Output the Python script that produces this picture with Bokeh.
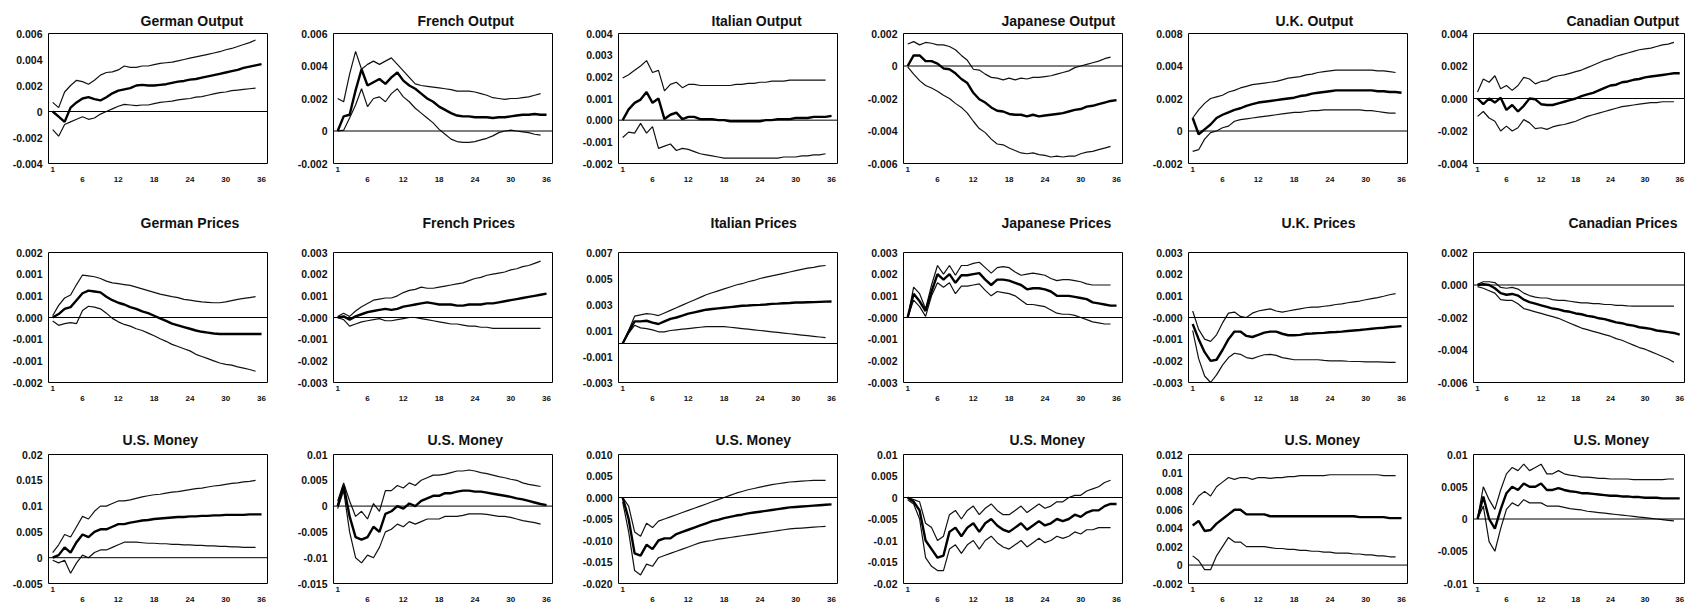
from bokeh.plotting import figure
from bokeh.layouts import gridplot
from bokeh.models import Range1d, FixedTicker, LinearAxis, Span
from bokeh.embed import file_html
from bokeh.resources import INLINE

UNIT = 0.001  # all series below are written in thousandths

periods = list(range(1, 37))
first_tick = [1]
other_ticks = [6, 12, 18, 24, 30, 36]

# ---------------- Row 1: Output ----------------
german_output_mid = [0, -0.4, -0.8, 0.3, 0.7, 1.0, 1.1, 0.95, 0.85, 1.1, 1.4, 1.6, 1.7, 1.8, 2.0, 2.05, 2.0, 2.0, 2.05, 2.1, 2.2, 2.3, 2.35, 2.45, 2.5, 2.6, 2.7, 2.8, 2.9, 3.0, 3.1, 3.2, 3.35, 3.45, 3.55, 3.65]
german_output_hi = [0.7, 0.3, 1.5, 2.0, 2.4, 2.3, 2.1, 2.4, 2.8, 3.0, 3.05, 3.2, 3.5, 3.4, 3.4, 3.5, 3.5, 3.6, 3.7, 3.75, 3.8, 3.9, 4.0, 4.1, 4.2, 4.3, 4.4, 4.5, 4.6, 4.75, 4.85, 5.0, 5.15, 5.3, 5.5]
german_output_lo = [-1.4, -1.9, -1.0, -0.8, -0.6, -0.4, -0.6, -0.5, -0.2, 0.0, 0.2, 0.4, 0.55, 0.5, 0.45, 0.5, 0.5, 0.6, 0.7, 0.75, 0.8, 0.9, 0.95, 1.0, 1.1, 1.15, 1.25, 1.35, 1.45, 1.5, 1.6, 1.65, 1.7, 1.75, 1.8]
german_output_ticks = [-0.004, -0.002, 0.0, 0.002, 0.004, 0.006]
german_output_labels = ["-0.004", "-0.002", "0", "0.002", "0.004", "0.006"]

french_output_mid = [0, 0.9, 1.0, 2.5, 3.8, 2.8, 3.0, 3.2, 2.9, 3.3, 3.6, 3.1, 2.8, 2.6, 2.3, 2.0, 1.8, 1.5, 1.3, 1.1, 0.95, 0.9, 0.9, 0.85, 0.85, 0.85, 0.8, 0.85, 0.85, 0.9, 0.95, 1.0, 1.0, 1.05, 1.0, 1.0]
french_output_hi = [2.0, 1.8, 3.5, 4.9, 3.8, 4.1, 4.3, 4.1, 4.3, 4.5, 4.1, 3.7, 3.3, 2.9, 2.8, 2.75, 2.7, 2.65, 2.6, 2.55, 2.45, 2.45, 2.45, 2.4, 2.3, 2.2, 2.05, 2.0, 1.95, 2.0, 2.0, 2.05, 2.1, 2.2, 2.3]
french_output_lo = [0, 0.05, 0.8, 1.6, 2.6, 1.5, 2.0, 2.1, 1.8, 2.3, 2.6, 2.1, 1.8, 1.4, 1.1, 0.8, 0.5, 0.1, -0.2, -0.5, -0.65, -0.7, -0.7, -0.65, -0.55, -0.45, -0.3, -0.1, 0.0, 0.05, 0.0, -0.05, -0.1, -0.2, -0.25]
french_output_ticks = [-0.002, 0.0, 0.002, 0.004, 0.006]
french_output_labels = ["-0.002", "0", "0.002", "0.004", "0.006"]

italian_output_mid = [0, 0.5, 0.8, 0.95, 1.3, 0.8, 1.0, 0.05, 0.25, 0.35, 0.05, 0.15, 0.15, 0.05, 0.05, 0.05, 0.0, 0.0, -0.05, -0.05, -0.05, -0.05, -0.05, -0.05, 0.0, 0.0, 0.05, 0.05, 0.05, 0.1, 0.1, 0.1, 0.15, 0.15, 0.15, 0.2]
italian_output_hi = [1.95, 2.1, 2.3, 2.5, 2.75, 2.2, 2.3, 1.35, 1.65, 1.75, 1.5, 1.65, 1.65, 1.6, 1.6, 1.6, 1.6, 1.6, 1.6, 1.65, 1.65, 1.7, 1.7, 1.75, 1.75, 1.8, 1.8, 1.8, 1.85, 1.85, 1.85, 1.85, 1.85, 1.85, 1.85]
italian_output_lo = [-0.8, -0.55, -0.6, -0.15, -0.6, -0.3, -1.3, -1.2, -1.1, -1.4, -1.3, -1.35, -1.45, -1.55, -1.6, -1.65, -1.7, -1.75, -1.75, -1.75, -1.75, -1.75, -1.75, -1.75, -1.75, -1.75, -1.75, -1.7, -1.7, -1.7, -1.65, -1.65, -1.6, -1.6, -1.55]
italian_output_ticks = [-0.002, -0.001, 0.0, 0.001, 0.002, 0.003, 0.004]
italian_output_labels = ["-0.002", "-0.001", "0.000", "0.001", "0.002", "0.003", "0.004"]

japanese_output_mid = [0, 0.65, 0.65, 0.3, 0.3, 0.15, -0.15, -0.2, -0.45, -0.8, -1.05, -1.65, -2.05, -2.25, -2.55, -2.75, -2.8, -2.95, -3.0, -3.0, -3.1, -3.0, -3.1, -3.05, -3.0, -2.95, -2.9, -2.8, -2.7, -2.65, -2.5, -2.45, -2.35, -2.25, -2.15, -2.1]
japanese_output_hi = [1.35, 1.5, 1.3, 1.45, 1.4, 1.3, 1.3, 1.2, 1.0, 0.65, 0.35, -0.2, -0.25, -0.5, -0.7, -0.75, -0.85, -0.75, -0.85, -0.75, -0.8, -0.7, -0.7, -0.65, -0.6, -0.5, -0.4, -0.3, -0.1, 0.0, 0.1, 0.2, 0.3, 0.45, 0.55]
japanese_output_lo = [-0.05, -0.5, -0.9, -1.2, -1.35, -1.55, -1.8, -2.0, -2.3, -2.55, -2.9, -3.4, -3.85, -4.1, -4.5, -4.8, -4.85, -5.05, -5.2, -5.35, -5.4, -5.35, -5.45, -5.5, -5.6, -5.55, -5.6, -5.55, -5.55, -5.4, -5.3, -5.25, -5.15, -5.05, -4.95]
japanese_output_ticks = [-0.006, -0.004, -0.002, 0.0, 0.002]
japanese_output_labels = ["-0.006", "-0.004", "-0.002", "0", "0.002"]

uk_output_mid = [0.8, -0.2, 0.1, 0.4, 0.8, 1.0, 1.15, 1.3, 1.4, 1.55, 1.65, 1.75, 1.8, 1.85, 1.9, 1.95, 2.0, 2.05, 2.15, 2.2, 2.3, 2.35, 2.4, 2.45, 2.5, 2.5, 2.5, 2.5, 2.5, 2.5, 2.5, 2.45, 2.45, 2.4, 2.4, 2.35]
uk_output_hi = [0.8, 1.3, 1.7, 2.0, 2.1, 2.2, 2.4, 2.5, 2.65, 2.75, 2.85, 2.9, 2.95, 3.0, 3.05, 3.15, 3.25, 3.3, 3.35, 3.45, 3.5, 3.6, 3.65, 3.7, 3.75, 3.75, 3.75, 3.75, 3.75, 3.75, 3.75, 3.7, 3.7, 3.65, 3.6]
uk_output_lo = [-1.25, -1.15, -0.5, -0.1, 0.0, 0.2, 0.3, 0.6, 0.7, 0.75, 0.8, 0.85, 0.9, 0.95, 1.0, 1.05, 1.1, 1.15, 1.15, 1.2, 1.25, 1.25, 1.3, 1.3, 1.3, 1.3, 1.3, 1.3, 1.3, 1.25, 1.25, 1.2, 1.15, 1.1, 1.1]
uk_output_ticks = [-0.002, 0.0, 0.002, 0.004, 0.006]
uk_output_labels = ["-0.002", "0", "0.002", "0.004", "0.008"]

canadian_output_mid = [0, -0.35, 0, -0.25, 0.05, -0.7, -0.4, -0.8, -0.45, 0, -0.05, -0.35, -0.4, -0.4, -0.3, -0.2, -0.1, 0, 0.15, 0.25, 0.35, 0.5, 0.65, 0.8, 0.85, 1.0, 1.05, 1.15, 1.2, 1.3, 1.35, 1.4, 1.45, 1.5, 1.55, 1.55]
canadian_output_hi = [0.4, 1.2, 1.0, 1.4, 0.6, 0.8, 0.5, 0.8, 1.3, 1.2, 0.9, 1.05, 1.1, 1.3, 1.4, 1.45, 1.55, 1.65, 1.75, 1.9, 2.05, 2.2, 2.35, 2.45, 2.6, 2.7, 2.8, 2.9, 3.0, 3.05, 3.1, 3.2, 3.3, 3.35, 3.45]
canadian_output_lo = [-1.1, -0.8, -1.2, -1.4, -2.0, -1.7, -2.0, -1.8, -1.3, -1.5, -1.85, -1.8, -1.9, -1.75, -1.65, -1.6, -1.5, -1.4, -1.25, -1.1, -1.0, -0.9, -0.8, -0.7, -0.6, -0.5, -0.45, -0.4, -0.35, -0.3, -0.25, -0.25, -0.2, -0.2, -0.2]
canadian_output_ticks = [-0.004, -0.002, 0.0, 0.002, 0.004]
canadian_output_labels = ["-0.004", "-0.002", "0.000", "0.002", "0.004"]

# ---------------- Row 2: Prices ----------------
german_prices_mid = [0, 0.08, 0.2, 0.24, 0.4, 0.56, 0.62, 0.6, 0.58, 0.48, 0.4, 0.34, 0.3, 0.24, 0.2, 0.14, 0.1, 0.04, -0.02, -0.08, -0.14, -0.18, -0.22, -0.26, -0.3, -0.33, -0.35, -0.37, -0.38, -0.38, -0.38, -0.38, -0.38, -0.38, -0.38, -0.38]
german_prices_hi = [0.04, 0.28, 0.45, 0.52, 0.76, 0.98, 0.96, 0.94, 0.9, 0.84, 0.8, 0.78, 0.76, 0.74, 0.7, 0.66, 0.62, 0.58, 0.54, 0.51, 0.48, 0.46, 0.42, 0.4, 0.38, 0.36, 0.35, 0.34, 0.34, 0.36, 0.39, 0.42, 0.44, 0.46, 0.48]
german_prices_lo = [-0.08, -0.18, -0.14, -0.12, -0.14, 0.16, 0.26, 0.24, 0.2, 0.1, -0.02, -0.1, -0.16, -0.2, -0.26, -0.3, -0.36, -0.42, -0.49, -0.55, -0.62, -0.67, -0.72, -0.77, -0.85, -0.9, -0.95, -1.0, -1.05, -1.08, -1.1, -1.14, -1.17, -1.2, -1.24]
german_prices_ticks = [-0.0015, -0.001, -0.0005, 0.0, 0.0005, 0.001, 0.0015]
german_prices_labels = ["-0.002", "-0.001", "-0.001", "0.000", "0.001", "0.001", "0.002"]

french_prices_mid = [0, 0.05, -0.1, 0.05, 0.15, 0.25, 0.3, 0.35, 0.4, 0.35, 0.4, 0.5, 0.55, 0.6, 0.65, 0.7, 0.65, 0.6, 0.6, 0.6, 0.55, 0.55, 0.6, 0.6, 0.6, 0.65, 0.65, 0.7, 0.75, 0.8, 0.85, 0.9, 0.95, 1.0, 1.05, 1.1]
french_prices_hi = [0.05, 0.2, 0.05, 0.3, 0.5, 0.65, 0.8, 0.85, 0.9, 0.9, 1.0, 1.15, 1.25, 1.3, 1.4, 1.35, 1.35, 1.4, 1.45, 1.5, 1.55, 1.6, 1.7, 1.8, 1.85, 1.95, 2.0, 2.05, 2.1, 2.2, 2.25, 2.35, 2.4, 2.5, 2.6]
french_prices_lo = [0.0, -0.1, -0.4, -0.3, -0.2, -0.15, -0.1, -0.05, -0.15, -0.15, -0.1, -0.05, 0.0, 0.0, -0.05, -0.1, -0.15, -0.2, -0.25, -0.3, -0.3, -0.35, -0.4, -0.4, -0.45, -0.45, -0.5, -0.5, -0.5, -0.5, -0.5, -0.5, -0.5, -0.5, -0.5]
french_prices_ticks = [-0.003, -0.002, -0.001, 0.0, 0.001, 0.002, 0.003]
french_prices_labels = ["-0.003", "-0.002", "-0.001", "-0.000", "0.001", "0.002", "0.003"]

italian_prices_mid = [0, 0.9, 1.7, 1.7, 1.75, 1.6, 1.5, 1.7, 1.9, 2.0, 2.15, 2.3, 2.4, 2.5, 2.6, 2.65, 2.7, 2.75, 2.8, 2.85, 2.9, 2.92, 2.95, 2.97, 3.0, 3.05, 3.07, 3.1, 3.12, 3.15, 3.15, 3.17, 3.18, 3.2, 3.22, 3.23]
italian_prices_hi = [0.0, 1.0, 2.1, 2.2, 2.3, 2.25, 2.15, 2.35, 2.55, 2.75, 2.95, 3.15, 3.35, 3.55, 3.75, 3.9, 4.05, 4.2, 4.35, 4.5, 4.6, 4.75, 4.85, 5.0, 5.1, 5.2, 5.3, 5.4, 5.5, 5.6, 5.7, 5.8, 5.85, 5.95, 6.0]
italian_prices_lo = [0.0, 0.8, 1.4, 1.2, 1.15, 1.05, 0.9, 0.9, 1.0, 1.05, 1.1, 1.15, 1.2, 1.25, 1.3, 1.3, 1.3, 1.3, 1.25, 1.2, 1.15, 1.1, 1.05, 1.0, 0.95, 0.9, 0.85, 0.8, 0.75, 0.7, 0.65, 0.6, 0.55, 0.5, 0.45]
italian_prices_ticks = [-0.003, -0.001, 0.001, 0.003, 0.005, 0.007]
italian_prices_labels = ["-0.003", "-0.001", "0.001", "0.003", "0.005", "0.007"]

japanese_prices_mid = [0, 1.1, 0.75, 0.3, 1.2, 2.0, 1.75, 2.0, 1.6, 1.95, 1.95, 2.0, 2.05, 1.75, 1.5, 1.75, 1.75, 1.7, 1.6, 1.5, 1.3, 1.35, 1.35, 1.3, 1.2, 1.0, 1.0, 1.0, 0.95, 0.9, 0.85, 0.7, 0.65, 0.6, 0.55, 0.55]
japanese_prices_hi = [0, 1.4, 1.1, 0.4, 1.5, 2.4, 2.0, 2.4, 1.95, 2.4, 2.4, 2.5, 2.55, 2.3, 2.05, 2.3, 2.35, 2.3, 2.1, 1.95, 2.0, 2.05, 2.0, 1.95, 1.8, 1.7, 1.75, 1.75, 1.7, 1.65, 1.55, 1.5, 1.5, 1.5, 1.5]
japanese_prices_lo = [0, 0.8, 0.5, 0.05, 1.0, 1.6, 1.4, 1.6, 1.1, 1.45, 1.45, 1.5, 1.55, 1.25, 1.0, 1.2, 1.15, 1.1, 1.0, 0.8, 0.6, 0.6, 0.55, 0.5, 0.35, 0.2, 0.15, 0.15, 0.1, 0.0, -0.1, -0.2, -0.25, -0.3, -0.3]
japanese_prices_ticks = [-0.003, -0.002, -0.001, 0.0, 0.001, 0.002, 0.003]
japanese_prices_labels = ["-0.003", "-0.002", "-0.001", "-0.000", "0.001", "0.002", "0.003"]

uk_prices_mid = [-0.3, -1.0, -1.6, -2.0, -1.95, -1.5, -1.0, -0.65, -0.65, -0.85, -0.9, -0.8, -0.7, -0.65, -0.65, -0.75, -0.82, -0.82, -0.8, -0.75, -0.74, -0.72, -0.71, -0.68, -0.67, -0.65, -0.62, -0.6, -0.58, -0.55, -0.52, -0.49, -0.47, -0.44, -0.42, -0.4]
uk_prices_hi = [0.3, -0.55, -1.0, -1.1, -0.8, -0.25, 0.2, 0.25, 0.05, 0.0, 0.2, 0.3, 0.35, 0.4, 0.3, 0.25, 0.3, 0.35, 0.4, 0.45, 0.48, 0.48, 0.52, 0.55, 0.6, 0.63, 0.68, 0.72, 0.76, 0.82, 0.87, 0.92, 0.98, 1.05, 1.1]
uk_prices_lo = [-0.6, -1.9, -2.7, -3.0, -2.65, -2.2, -1.85, -1.65, -1.7, -1.85, -1.9, -1.8, -1.72, -1.7, -1.75, -1.85, -1.9, -1.95, -1.95, -1.95, -1.95, -1.95, -1.98, -2.0, -2.0, -2.0, -2.02, -2.03, -2.03, -2.05, -2.05, -2.05, -2.06, -2.07, -2.07]
uk_prices_ticks = [-0.003, -0.002, -0.001, 0.0, 0.001, 0.002, 0.003]
uk_prices_labels = ["-0.003", "-0.002", "-0.001", "-0.000", "0.001", "0.002", "0.003"]

canadian_prices_mid = [0, 0.05, 0.0, -0.2, -0.5, -0.6, -0.55, -0.65, -0.9, -1.05, -1.15, -1.25, -1.35, -1.45, -1.5, -1.6, -1.65, -1.75, -1.8, -1.9, -1.95, -2.05, -2.1, -2.2, -2.3, -2.35, -2.45, -2.5, -2.6, -2.65, -2.7, -2.8, -2.85, -2.9, -2.95, -3.05]
canadian_prices_hi = [0.05, 0.2, 0.2, 0.15, -0.15, -0.2, -0.15, -0.25, -0.5, -0.65, -0.75, -0.8, -0.8, -0.9, -0.95, -0.95, -1.0, -1.05, -1.1, -1.1, -1.15, -1.15, -1.2, -1.2, -1.25, -1.25, -1.28, -1.3, -1.3, -1.3, -1.3, -1.3, -1.3, -1.3, -1.3]
canadian_prices_lo = [-0.1, -0.2, -0.35, -0.5, -0.9, -0.95, -0.95, -1.15, -1.45, -1.55, -1.65, -1.75, -1.85, -1.95, -2.05, -2.2, -2.35, -2.5, -2.65, -2.75, -2.85, -2.95, -3.05, -3.15, -3.3, -3.4, -3.55, -3.7, -3.85, -3.95, -4.1, -4.25, -4.4, -4.55, -4.75]
canadian_prices_ticks = [-0.006, -0.004, -0.002, 0.0, 0.002]
canadian_prices_labels = ["-0.006", "-0.004", "-0.002", "0.000", "0.002"]

# ---------------- Row 3: U.S. Money ----------------
money_de_mid = [0, 0.5, 2.0, 1.0, 3.0, 4.5, 4.0, 5.0, 5.5, 5.5, 6.0, 6.5, 6.5, 6.8, 7.0, 7.2, 7.3, 7.5, 7.6, 7.7, 7.8, 7.9, 7.9, 8.0, 8.0, 8.1, 8.1, 8.2, 8.2, 8.3, 8.3, 8.3, 8.3, 8.4, 8.4, 8.4]
money_de_hi = [1.0, 2.5, 4.5, 4.0, 6.0, 8.0, 7.5, 9.0, 10.0, 10.0, 10.5, 11.0, 11.0, 11.2, 11.5, 11.8, 12.0, 12.2, 12.3, 12.5, 12.7, 12.8, 13.0, 13.2, 13.4, 13.5, 13.7, 13.9, 14.0, 14.2, 14.4, 14.5, 14.7, 14.8, 15.0]
money_de_lo = [-0.5, -1.0, -0.5, -3.0, -1.0, 0.5, 0.0, 1.0, 1.5, 1.5, 2.0, 2.5, 3.0, 3.0, 3.0, 2.9, 2.8, 2.8, 2.7, 2.7, 2.6, 2.6, 2.5, 2.5, 2.4, 2.4, 2.3, 2.3, 2.2, 2.2, 2.1, 2.1, 2.0, 2.0, 2.0]
money_de_ticks = [-0.005, 0.0, 0.005, 0.01, 0.015, 0.02]
money_de_labels = ["-0.005", "0", "0.005", "0.01", "0.015", "0.02"]

money_fr_mid = [0, 4.0, -2.0, -6.0, -6.5, -6.0, -4.0, -5.0, -1.5, -1.0, 0.0, -0.5, 0.5, 0.0, 1.0, 1.5, 2.0, 2.0, 2.5, 2.5, 2.8, 3.0, 3.0, 2.8, 2.8, 2.6, 2.4, 2.2, 2.0, 1.8, 1.5, 1.3, 1.0, 0.7, 0.4, 0.2]
money_fr_hi = [1.0, 4.5, 1.0, -2.0, -1.0, -2.5, 0.5, -1.0, 3.0, 3.0, 4.0, 3.5, 4.5, 4.0, 5.0, 5.5, 6.0, 6.0, 6.2, 6.5, 6.8, 6.8, 7.0, 6.8, 6.5, 6.3, 6.0, 5.7, 5.5, 5.2, 5.0, 4.5, 4.2, 4.0, 3.8]
money_fr_lo = [-0.5, 3.0, -5.0, -10.0, -11.0, -9.5, -10.0, -8.0, -5.0, -4.5, -3.5, -4.0, -3.0, -3.5, -3.0, -2.5, -2.5, -2.5, -2.0, -2.0, -2.0, -1.8, -1.5, -1.5, -1.5, -1.6, -1.8, -2.0, -2.0, -2.2, -2.5, -2.8, -3.0, -3.2, -3.5]
money_fr_ticks = [-0.015, -0.01, -0.005, 0.0, 0.005, 0.01]
money_fr_labels = ["-0.015", "-0.01", "-0.005", "0", "0.005", "0.01"]

money_it_mid = [0, -5, -13, -13.5, -11, -12, -10, -9.5, -9.5, -8.5, -8, -7.5, -7, -6.5, -6, -5.5, -5.2, -4.8, -4.5, -4.2, -4, -3.7, -3.5, -3.3, -3.1, -2.9, -2.7, -2.5, -2.3, -2.2, -2.1, -2.0, -1.9, -1.8, -1.7, -1.6]
money_it_hi = [0, -2, -8, -9, -6, -7, -5.5, -5, -4.5, -4, -3.5, -3, -2.5, -2, -1.5, -1, -0.5, 0, 0.5, 1.0, 1.4, 1.8, 2.1, 2.4, 2.7, 3.0, 3.2, 3.4, 3.6, 3.7, 3.8, 3.9, 4.0, 4.0, 4.0]
money_it_lo = [-1, -8, -17, -18, -15.5, -16, -14, -13.5, -13, -12.5, -12, -11.5, -11, -10.5, -10.2, -10, -9.7, -9.5, -9.3, -9.1, -8.9, -8.7, -8.5, -8.3, -8.1, -7.9, -7.7, -7.5, -7.3, -7.2, -7.1, -7.0, -6.9, -6.8, -6.7]
money_it_ticks = [-0.02, -0.015, -0.01, -0.005, 0.0, 0.005, 0.01]
money_it_labels = ["-0.020", "-0.015", "-0.010", "-0.005", "0.000", "0.005", "0.010"]

money_jp_mid = [0, -1, -3, -10, -12, -14, -13.5, -8, -7, -9, -7, -6, -8, -6, -5, -6.5, -7.5, -8, -7, -6, -7.5, -6.5, -5.5, -6.5, -6, -5, -5.5, -5, -4, -4.5, -3.5, -3, -3, -2, -1.5, -1.5]
money_jp_hi = [0, -0.5, -1, -6, -7, -10, -9, -4, -3, -5, -3, -2, -4, -2.5, -1.5, -3, -4, -4, -3, -2, -3.5, -2.5, -1.5, -2.5, -2, -1, -1, 0, 0.5, 0.5, 1.5, 2, 2.5, 3.5, 4]
money_jp_lo = [-0.5, -1.5, -5, -14, -16, -17, -17, -12, -11, -13, -11, -10, -12, -10, -9, -10.5, -11.5, -12, -11, -10, -11.5, -10.5, -9.5, -10.5, -10, -9, -9.5, -9, -8, -8.5, -7.5, -7.5, -7, -7, -7]
money_jp_ticks = [-0.02, -0.015, -0.01, -0.005, 0.0, 0.005, 0.01]
money_jp_labels = ["-0.02", "-0.015", "-0.01", "-0.005", "0", "0.005", "0.01"]

money_uk_mid = [4.3, 4.8, 3.7, 3.8, 4.5, 5.0, 5.5, 6.0, 6.0, 5.5, 5.5, 5.5, 5.5, 5.3, 5.3, 5.3, 5.3, 5.3, 5.3, 5.3, 5.3, 5.3, 5.3, 5.3, 5.3, 5.3, 5.3, 5.3, 5.2, 5.2, 5.2, 5.2, 5.2, 5.1, 5.1, 5.1]
money_uk_hi = [6.5, 7.5, 8.0, 7.5, 8.5, 9.0, 9.5, 9.3, 9.5, 9.5, 9.3, 9.5, 9.5, 9.4, 9.5, 9.5, 9.6, 9.6, 9.7, 9.7, 9.7, 9.7, 9.7, 9.8, 9.8, 9.8, 9.8, 9.8, 9.8, 9.8, 9.8, 9.8, 9.7, 9.7, 9.7]
money_uk_lo = [1.0, 0.5, -0.5, -0.5, 1.0, 2.0, 3.0, 2.5, 2.5, 2.0, 2.0, 2.0, 2.0, 1.9, 1.8, 1.8, 1.7, 1.7, 1.6, 1.6, 1.5, 1.5, 1.4, 1.4, 1.3, 1.3, 1.3, 1.2, 1.2, 1.1, 1.1, 1.0, 1.0, 0.9, 0.9]
money_uk_ticks = [-0.002, 0.0, 0.002, 0.004, 0.006, 0.008, 0.01, 0.012]
money_uk_labels = ["-0.002", "0", "0.002", "0.004", "0.006", "0.008", "0.01", "0.012"]

money_ca_mid = [0, 3.5, 0, -1.5, 1.5, 4.0, 5.0, 4.5, 5.5, 5.0, 5.0, 5.5, 4.5, 4.5, 4.8, 4.5, 4.3, 4.2, 4.0, 4.0, 3.9, 3.8, 3.7, 3.6, 3.6, 3.5, 3.5, 3.4, 3.4, 3.3, 3.3, 3.3, 3.2, 3.2, 3.2, 3.2]
money_ca_hi = [0, 5.0, 3.0, 1.5, 4.5, 7.0, 8.0, 7.5, 8.5, 7.5, 8.0, 8.5, 7.0, 7.0, 7.5, 7.0, 6.8, 6.7, 6.5, 6.5, 6.4, 6.3, 6.3, 6.2, 6.2, 6.2, 6.2, 6.1, 6.1, 6.1, 6.1, 6.1, 6.1, 6.2, 6.2]
money_ca_lo = [0, 2.0, -3.5, -5.0, -1.5, 1.5, 2.5, 2.0, 3.0, 2.5, 2.5, 2.5, 2.0, 2.0, 2.0, 1.8, 1.6, 1.5, 1.4, 1.2, 1.1, 1.0, 0.9, 0.8, 0.7, 0.6, 0.5, 0.4, 0.3, 0.2, 0.1, 0.0, -0.1, -0.2, -0.3]
money_ca_ticks = [-0.01, -0.005, 0.0, 0.005, 0.01]
money_ca_labels = ["-0.01", "-0.005", "0", "0.005", "0.01"]

panels = [
    ("German Output", german_output_mid, german_output_hi, german_output_lo, german_output_ticks, german_output_labels),
    ("French Output", french_output_mid, french_output_hi, french_output_lo, french_output_ticks, french_output_labels),
    ("Italian Output", italian_output_mid, italian_output_hi, italian_output_lo, italian_output_ticks, italian_output_labels),
    ("Japanese Output", japanese_output_mid, japanese_output_hi, japanese_output_lo, japanese_output_ticks, japanese_output_labels),
    ("U.K. Output", uk_output_mid, uk_output_hi, uk_output_lo, uk_output_ticks, uk_output_labels),
    ("Canadian Output", canadian_output_mid, canadian_output_hi, canadian_output_lo, canadian_output_ticks, canadian_output_labels),
    ("German  Prices", german_prices_mid, german_prices_hi, german_prices_lo, german_prices_ticks, german_prices_labels),
    ("French Prices", french_prices_mid, french_prices_hi, french_prices_lo, french_prices_ticks, french_prices_labels),
    ("Italian Prices", italian_prices_mid, italian_prices_hi, italian_prices_lo, italian_prices_ticks, italian_prices_labels),
    ("Japanese Prices", japanese_prices_mid, japanese_prices_hi, japanese_prices_lo, japanese_prices_ticks, japanese_prices_labels),
    ("U.K. Prices", uk_prices_mid, uk_prices_hi, uk_prices_lo, uk_prices_ticks, uk_prices_labels),
    ("Canadian Prices", canadian_prices_mid, canadian_prices_hi, canadian_prices_lo, canadian_prices_ticks, canadian_prices_labels),
    ("U.S. Money", money_de_mid, money_de_hi, money_de_lo, money_de_ticks, money_de_labels),
    ("U.S. Money", money_fr_mid, money_fr_hi, money_fr_lo, money_fr_ticks, money_fr_labels),
    ("U.S. Money", money_it_mid, money_it_hi, money_it_lo, money_it_ticks, money_it_labels),
    ("U.S. Money", money_jp_mid, money_jp_hi, money_jp_lo, money_jp_ticks, money_jp_labels),
    ("U.S. Money", money_uk_mid, money_uk_hi, money_uk_lo, money_uk_ticks, money_uk_labels),
    ("U.S. Money", money_ca_mid, money_ca_hi, money_ca_lo, money_ca_ticks, money_ca_labels),
]

# ---------------- layout / style ----------------
col_width = [285, 285, 285, 285, 285, 260]
col_left = [48, 48, 48, 48, 48, 48]
col_right = [18, 18, 18, 18, 18, 0]
row_top = [33, 64, 48]
row_bottom = [25, 24, 20]
frame_h = 130
title_standoff = [10, 44, 14]
title_offset = [
    [92, 84, 93, 98, 87, 93],
    [92, 89, 92, 98, 93, 95],
    [74, 94, 97, 106, 96, 100],
]
FONT = "Liberation Sans"
INK = "#111111"


def style_axis(ax, size, standoff):
    ax.axis_line_color = None
    ax.major_tick_line_color = None
    ax.minor_tick_line_color = None
    ax.major_tick_out = 0
    ax.major_tick_in = 0
    ax.major_label_standoff = standoff
    ax.major_label_text_font = FONT
    ax.major_label_text_font_style = "bold"
    ax.major_label_text_font_size = size
    ax.major_label_text_color = INK


grid = []
for i, (name, mid, hi, lo, yt, yl) in enumerate(panels):
    r, c = divmod(i, 6)
    if c == 0:
        grid.append([])
    p = figure(
        width=col_width[c],
        height=row_top[r] + frame_h + row_bottom[r],
        x_range=Range1d(0.3, 37),
        y_range=Range1d(yt[0], yt[-1]),
        output_backend="svg",
        toolbar_location=None,
        title=name,
        min_border_left=col_left[c],
        min_border_right=col_right[c],
        min_border_top=row_top[r],
        min_border_bottom=row_bottom[r],
    )
    p.title.align = "left"
    p.title.offset = title_offset[r][c]
    p.title.standoff = title_standoff[r]
    p.title.text_font = FONT
    p.title.text_font_size = "14px"
    p.title.text_font_style = "bold"
    p.title.text_color = INK

    p.xgrid.visible = False
    p.ygrid.visible = False
    p.outline_line_color = "black"
    p.outline_line_width = 1
    p.background_fill_color = "white"
    p.border_fill_color = "white"

    yax = p.yaxis[0]
    yax.ticker = FixedTicker(ticks=yt)
    yax.major_label_overrides = {float(t): s for t, s in zip(yt, yl)}
    style_axis(yax, "10.5px", 6)

    xax = p.xaxis[0]
    xax.ticker = FixedTicker(ticks=first_tick)
    style_axis(xax, "8px", 3)
    xax2 = LinearAxis(ticker=FixedTicker(ticks=other_ticks))
    style_axis(xax2, "8px", 2)
    p.add_layout(xax2, "below")

    p.add_layout(Span(location=0, dimension="width", line_color="black", line_width=1))

    ymid = [v * UNIT for v in mid]
    yhi = [v * UNIT for v in hi]
    ylo = [v * UNIT for v in lo]
    p.line(periods[:len(yhi)], yhi, line_color=INK, line_width=1.2)
    p.line(periods[:len(ylo)], ylo, line_color=INK, line_width=1.2)
    p.line(periods[:len(ymid)], ymid, line_color="black", line_width=2.4)

    grid[-1].append(p)

layout = gridplot(grid, toolbar_location=None)
open("out.html", "w").write(file_html(layout, INLINE))
